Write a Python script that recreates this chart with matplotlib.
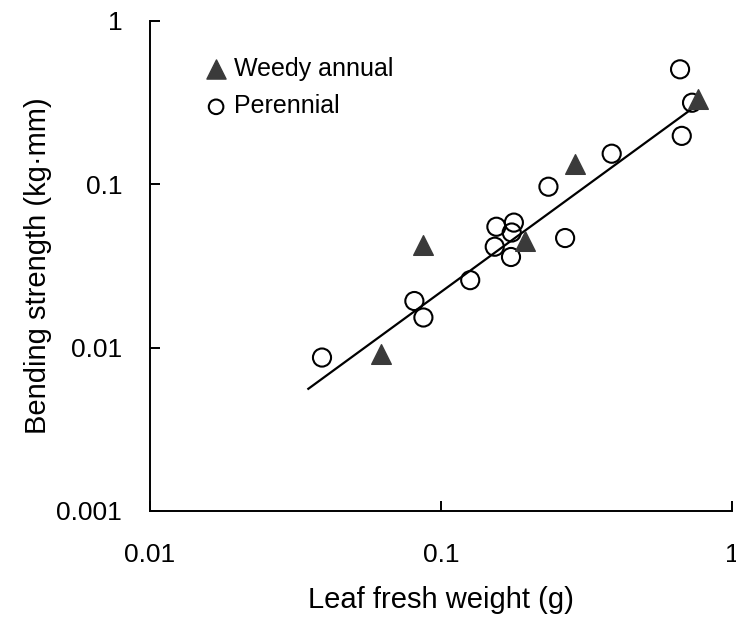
import numpy as np
import matplotlib
matplotlib.use('Agg')
import matplotlib.pyplot as plt

# Data
annual_x = [0.062, 0.087, 0.194, 0.289, 0.764]
annual_y = [0.0091, 0.0425, 0.045, 0.133, 0.331]

perennial_x = [0.039, 0.081, 0.087, 0.126, 0.155, 0.178, 0.175, 0.153,
               0.174, 0.234, 0.267, 0.386, 0.663, 0.729, 0.672]
perennial_y = [0.0087, 0.0193, 0.0153, 0.0259, 0.055, 0.0583, 0.0507, 0.0415,
               0.0359, 0.0967, 0.0469, 0.154, 0.506, 0.316, 0.198]

# regression line end points
fit_x = [0.035, 0.776]
fit_y = [0.0056, 0.315]

x_ticks = [0.01, 0.1, 1]
x_labels = ['0.01', '0.1', '1']
y_ticks = [0.001, 0.01, 0.1, 1]
y_labels = ['0.001', '0.01', '0.1', '1']

plt.rcParams['font.family'] = ['Liberation Sans', 'DejaVu Sans']

fig = plt.figure(figsize=(7.36, 6.22), dpi=100)
ax = fig.add_axes([150/736, 1 - 511/622, 582/736, 490/622])

ax.plot(fit_x, fit_y, color='black', lw=1.6, zorder=1)
ax.scatter(perennial_x, perennial_y, marker='o', s=170, facecolors='none',
           edgecolors='black', linewidths=1.5, label='Perennial', zorder=2)
ax.scatter(annual_x, annual_y, marker='^', s=200, color='#3a3a3a',
           label='Weedy annual', zorder=3)

ax.set_xscale('log')
ax.set_yscale('log')
ax.set_xlim(0.01, 1)
ax.set_ylim(0.001, 1)
ax.set_xticks(x_ticks)
ax.set_xticklabels(x_labels)
ax.set_yticks(y_ticks)
ax.set_yticklabels(y_labels)
ax.minorticks_off()

ax.spines['top'].set_visible(False)
ax.spines['right'].set_visible(False)
ax.spines['left'].set_linewidth(1.4)
ax.spines['bottom'].set_linewidth(1.4)
ax.tick_params(direction='in', length=7, width=1.4, labelsize=19)
ax.tick_params(axis='x', pad=23)
ax.tick_params(axis='y', pad=20)

ax.set_xlabel('Leaf fresh weight (g)', fontsize=21, labelpad=14)
ax.set_ylabel('Bending strength (kg\u00b7mm)', fontsize=21, labelpad=3)

handles, labels = ax.get_legend_handles_labels()
leg = ax.legend(handles[::-1], labels[::-1], loc='upper left',
                bbox_to_anchor=(0.062, 0.963), frameon=False, fontsize=18,
                handlelength=1.0, handletextpad=0.2, labelspacing=0.55,
                borderpad=0.2)
leg.legend_handles[0].set_sizes([190])
leg.legend_handles[1].set_sizes([110])

fig.savefig('out.png', dpi=100)
